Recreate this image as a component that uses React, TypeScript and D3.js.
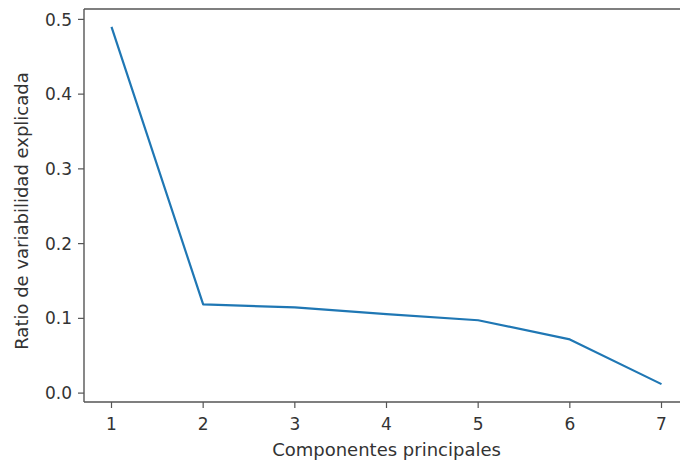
import React from "react";
import * as d3 from "d3";

// Explained variance ratio per principal component
const components = [1, 2, 3, 4, 5, 6, 7];
const varianceRatio = [0.49, 0.1186, 0.1146, 0.1056, 0.0975, 0.0718, 0.012];
const xTicks = [1, 2, 3, 4, 5, 6, 7];
const yTicks = [0.0, 0.1, 0.2, 0.3, 0.4, 0.5];

const W = 680;
const H = 464;

export default function App() {
  const left = 84;
  const right = 689;
  const top = 9;
  const bottom = 402;

  const x = d3.scaleLinear().domain([0.7, 7.3]).range([left, right]);
  const y = d3.scaleLinear().domain([-0.0119, 0.5139]).range([bottom, top]);

  const line = d3
    .line<number>()
    .x((_, i) => x(components[i]))
    .y((d) => y(d));

  const font = "'DejaVu Sans', sans-serif";
  const axisColor = "#555";
  const textColor = "#333";

  return (
    <svg
      width={W}
      height={H}
      style={{ position: "absolute", left: 0, top: 0, background: "#fff" }}
    >
      {/* plot area frame (right side runs off the canvas) */}
      <line x1={left} x2={W + 10} y1={top} y2={top} stroke={axisColor} strokeWidth={1.4} />
      <line x1={left} x2={W + 10} y1={bottom} y2={bottom} stroke={axisColor} strokeWidth={1.4} />
      <line x1={left} x2={left} y1={top} y2={bottom} stroke={axisColor} strokeWidth={1.4} />

      {/* y ticks */}
      {yTicks.map((t) => (
        <g key={"y" + t}>
          <line x1={left - 6} x2={left} y1={y(t)} y2={y(t)} stroke={axisColor} strokeWidth={1.2} />
          <text
            x={left - 12}
            y={y(t)}
            dy="0.36em"
            textAnchor="end"
            fontFamily={font}
            fontSize={17}
            fill={textColor}
          >
            {t.toFixed(1)}
          </text>
        </g>
      ))}

      {/* x ticks */}
      {xTicks.map((t) => (
        <g key={"x" + t}>
          <line x1={x(t)} x2={x(t)} y1={bottom} y2={bottom + 6} stroke={axisColor} strokeWidth={1.2} />
          <text
            x={x(t)}
            y={bottom + 28}
            textAnchor="middle"
            fontFamily={font}
            fontSize={17}
            fill={textColor}
          >
            {t}
          </text>
        </g>
      ))}

      {/* explained variance curve */}
      <path
        d={line(varianceRatio) || ""}
        fill="none"
        stroke="#1f77b4"
        strokeWidth={2.2}
        strokeLinejoin="round"
      />

      {/* axis titles */}
      <text
        x={(x(1) + x(7)) / 2}
        y={456}
        textAnchor="middle"
        fontFamily={font}
        fontSize={18}
        fill={textColor}
      >
        Componentes principales
      </text>
      <text
        transform={`translate(28, 211) rotate(-90)`}
        textAnchor="middle"
        fontFamily={font}
        fontSize={18}
        fill={textColor}
      >
        Ratio de variabilidad explicada
      </text>
    </svg>
  );
}
